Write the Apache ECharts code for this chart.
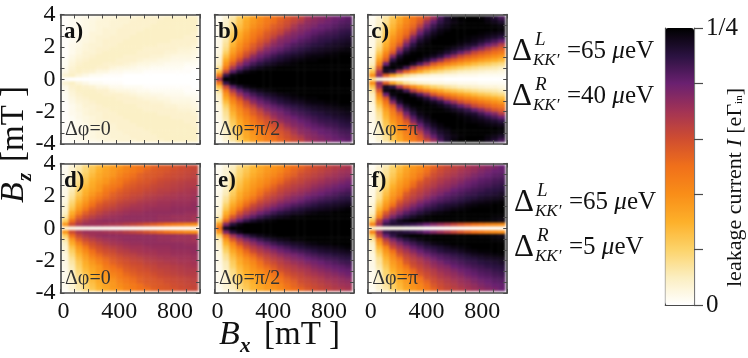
<!DOCTYPE html>
<html>
<head>
<meta charset="utf-8">
<style>
html, body { margin: 0; padding: 0; background: #fff; }
#heat, #view { position: absolute; left: 0; top: 0; width: 748px; height: 358px; }
#heat { filter: blur(1.2px); }
</style>
<script src="https://cdn.jsdelivr.net/npm/echarts@6/dist/echarts.min.js"></script>
</head>
<body>
<div id="heat"></div>
<div id="view"></div>
<script>
// Bx cell centres in mT, Bz rows in mT (top down to 0; the plots are symmetric in Bz,
// so only the upper half is tabulated). Values are % of the 1/4 full scale.
var bxCells = [25,75,125,175,225,275,325,375,425,475,525,575,625,675,725,775,825,875,925,975];
var bzCells = [4,3.75,3.5,3.25,3,2.75,2.5,2.25,2,1.75,1.5,1.25,1,0.75,0.5,0.25,0];
var colorTicks = [0, 0.05, 0.1, 0.15, 0.2, 0.25];

var panelA = [
[1,2,3,4,4,5,6,6,7,7,7,8,8,8,8,9,9,9,9,9],
[1,2,3,4,5,6,6,7,7,7,8,8,8,8,9,9,9,9,9,9],
[1,2,3,4,5,6,6,7,7,8,8,8,8,9,9,9,9,9,9,9],
[1,2,3,4,5,6,7,7,8,8,8,8,9,9,9,9,9,9,9,9],
[1,2,3,4,6,6,7,7,8,8,8,9,9,9,9,9,9,9,9,8],
[1,2,3,5,6,7,7,8,8,8,9,9,9,9,9,9,9,9,8,8],
[1,2,4,5,6,7,8,8,8,9,9,9,9,9,9,9,8,8,8,8],
[1,3,4,6,7,7,8,8,9,9,9,9,9,9,8,8,8,8,8,7],
[1,3,5,6,7,8,8,9,9,9,9,9,8,8,8,8,8,7,7,6],
[1,3,5,7,7,8,9,9,9,9,9,8,8,8,8,7,7,6,6,5],
[1,4,6,7,8,9,9,9,9,8,8,8,8,7,7,6,5,5,5,4],
[2,5,7,8,9,9,9,9,8,8,8,7,6,6,5,5,4,4,4,3],
[2,6,8,9,9,9,8,8,8,7,6,5,5,4,4,3,3,3,2,2],
[3,7,9,9,9,8,8,6,5,5,4,3,3,2,2,2,2,2,1,1],
[4,8,9,8,7,5,5,3,3,2,2,2,1,1,1,1,1,1,1,0],
[7,9,6,4,2,2,1,1,1,0,0,0,0,0,0,0,0,0,0,0],
[1,0,0,0,0,0,0,0,0,0,0,0,0,0,0,0,0,0,0,0]
];
var panelB = [
[2,7,13,22,29,35,40,45,49,53,57,61,64,70,73,75,77,79,80,82],
[3,8,15,24,32,37,42,47,51,56,60,64,68,73,75,77,79,81,83,84],
[3,9,16,26,33,39,44,49,55,58,62,68,73,75,77,80,81,83,85,86],
[3,9,18,28,35,42,47,52,57,61,66,71,75,77,80,81,83,85,87,88],
[3,10,21,31,38,45,50,56,60,64,71,75,77,80,82,84,86,87,89,90],
[3,11,23,33,40,47,53,58,64,71,75,77,80,82,85,87,88,89,91,92],
[4,13,26,36,43,50,57,62,70,75,77,80,83,85,87,89,90,92,93,94],
[4,15,29,39,47,55,61,68,74,77,81,84,86,88,90,91,93,94,95,96],
[5,17,33,42,51,58,66,74,78,81,84,87,89,91,93,94,95,96,97,98],
[5,21,36,47,57,64,74,78,82,85,88,90,92,94,95,96,97,98,99,99],
[7,26,41,52,62,73,79,83,87,90,92,94,95,97,98,98,99,99,100,100],
[8,32,47,60,73,79,84,88,91,93,95,97,98,99,99,100,100,100,100,100],
[10,38,56,71,80,86,90,93,95,97,98,99,100,100,100,100,100,100,100,100],
[15,47,68,81,88,93,96,98,99,100,100,100,100,100,100,100,100,100,100,100],
[26,62,83,92,97,99,100,100,100,100,100,100,100,100,100,100,100,100,100,100],
[47,88,98,100,100,100,100,100,100,100,100,100,100,100,100,100,100,100,100,100],
[70,100,100,100,100,100,100,100,100,100,100,100,100,100,100,100,100,100,100,100]
];
var panelC = [
[2,7,14,24,32,40,47,53,62,72,85,93,98,100,100,100,99,96,92,86],
[3,8,15,26,34,42,49,57,71,81,89,94,97,99,100,100,100,98,96,93],
[3,9,18,28,37,45,52,64,78,87,93,96,99,100,100,100,100,100,99,98],
[3,9,20,30,40,48,57,73,84,91,96,98,100,100,100,100,100,100,100,99],
[3,10,23,33,43,51,64,80,89,95,98,100,100,100,100,100,99,98,97,96],
[4,11,25,37,46,57,76,87,94,98,100,100,100,100,99,98,97,95,93,90],
[4,13,28,40,50,68,83,93,97,100,100,100,100,99,98,96,93,89,85,80],
[4,15,31,44,57,78,90,97,99,100,100,100,99,97,94,92,86,80,75,66],
[5,18,35,49,71,87,95,99,100,100,100,98,95,92,88,81,74,66,59,55],
[5,23,41,57,82,94,99,100,100,99,97,93,88,81,73,63,58,54,50,47],
[7,28,48,75,93,99,100,100,98,95,90,81,72,62,56,52,48,44,40,37],
[8,35,57,89,98,100,100,97,91,82,72,60,54,49,44,40,36,33,30,27],
[10,43,80,98,100,100,94,84,72,58,51,45,39,35,31,27,24,22,19,17],
[15,57,97,100,97,86,66,54,46,38,33,27,24,21,18,16,14,13,12,10],
[25,70,95,90,70,54,41,32,25,20,17,14,12,10,9,8,7,6,6,5],
[40,75,55,34,23,15,11,8,7,5,5,4,4,3,3,3,2,2,2,2],
[15,6,4,3,2,2,1,1,1,1,1,0,0,0,0,0,0,0,0,0]
];
var panelD = [
[2,7,12,18,23,28,32,36,38,43,46,49,50,54,56,57,58,60,61,62],
[3,7,13,19,25,30,34,37,41,44,47,50,54,56,57,58,60,61,62,63],
[3,8,15,21,27,32,35,38,43,47,50,54,56,57,58,60,61,62,63,64],
[3,9,15,23,29,33,37,41,46,49,52,55,57,58,60,61,62,63,64,65],
[3,9,17,24,31,35,38,44,47,52,55,57,58,60,62,63,64,65,66,66],
[3,10,19,27,32,37,43,47,50,55,57,59,60,62,63,64,65,66,67,67],
[4,11,21,29,34,38,46,50,54,57,59,60,62,63,65,65,66,67,68,69],
[4,13,23,31,37,43,49,54,57,59,61,62,64,65,66,67,68,69,69,70],
[5,15,26,34,41,47,52,56,59,61,63,64,66,67,68,69,69,70,70,71],
[5,18,29,37,46,52,57,59,62,64,65,67,68,69,70,70,71,71,71,72],
[7,21,33,41,50,57,60,62,65,66,68,69,70,70,71,71,72,72,72,73],
[7,25,37,47,56,60,63,65,67,69,70,70,71,72,72,72,73,73,73,73],
[9,31,44,55,60,64,67,69,70,71,72,72,73,73,73,73,73,73,72,72],
[13,37,54,61,65,68,70,71,72,73,73,73,73,73,72,72,71,71,71,70],
[21,50,62,67,70,72,73,73,73,73,73,73,73,73,72,72,72,71,71,70],
[37,60,68,71,71,71,70,69,68,66,64,62,59,56,53,50,47,45,42,40],
[6,4,3,3,2,2,2,1,1,1,1,1,1,1,1,1,1,1,1,1]
];
var panelE = [
[2,6,10,17,22,28,32,36,38,41,46,50,53,57,60,62,64,66,67,69],
[3,7,11,19,24,29,33,37,40,43,49,53,57,60,62,64,66,68,70,71],
[3,7,13,20,26,31,35,39,42,47,52,55,60,62,64,66,68,70,72,73],
[3,7,15,22,28,33,37,41,46,50,55,59,62,64,66,68,71,72,74,76],
[3,8,16,24,30,35,39,43,49,53,59,62,64,67,69,71,73,75,77,79],
[3,9,17,26,32,37,41,47,53,59,62,65,67,69,72,74,76,78,80,81],
[3,10,20,28,34,39,46,52,57,62,65,67,70,72,75,77,79,81,82,84],
[4,11,22,31,37,42,50,57,61,65,68,71,73,76,78,80,82,84,86,87],
[4,14,25,33,40,47,55,61,65,68,72,75,77,80,82,84,86,87,89,90],
[5,16,28,37,46,53,61,65,69,73,76,78,81,84,86,88,89,91,92,93],
[5,20,32,41,52,61,66,70,74,78,81,84,86,88,90,92,93,94,95,96],
[7,24,37,49,60,66,71,76,80,83,86,89,91,93,94,95,96,97,98,99],
[8,30,43,59,67,73,79,83,87,90,92,94,95,97,98,99,99,100,100,100],
[11,37,57,68,76,82,87,91,94,96,97,99,99,100,100,100,100,100,100,100],
[20,52,70,81,88,93,96,98,99,100,100,100,100,100,100,100,100,100,100,100],
[37,76,91,97,100,100,100,100,100,100,100,100,100,100,100,100,100,100,100,100],
[50,95,100,100,100,100,100,100,100,100,100,100,100,100,100,100,100,100,100,100]
];
var panelF = [
[2,7,12,20,26,32,37,41,47,53,59,62,64,66,69,71,73,75,77,80],
[3,8,14,21,28,34,39,43,50,57,61,64,66,69,71,73,76,78,80,81],
[3,8,15,23,30,36,41,47,53,60,63,66,68,71,73,76,78,80,82,83],
[3,9,17,25,32,38,43,50,59,62,66,68,71,73,76,78,81,82,84,85],
[3,9,19,27,35,40,49,57,61,65,68,71,73,76,79,81,83,84,86,87],
[3,10,20,30,37,43,52,60,64,67,71,73,76,79,81,83,85,86,88,89],
[4,12,23,33,40,49,59,63,67,71,74,76,80,82,84,86,87,89,90,91],
[4,14,26,36,43,56,62,66,70,74,77,81,83,85,87,88,90,91,92,94],
[5,15,29,39,49,60,65,69,74,78,82,84,86,88,90,91,93,94,95,96],
[5,19,33,43,57,64,69,75,79,83,85,87,89,91,93,95,96,97,98,99],
[7,23,37,50,63,69,75,80,84,87,90,92,93,95,97,98,99,99,100,100],
[7,28,43,61,69,75,81,85,89,91,93,95,97,98,99,100,100,100,100,100],
[9,35,57,68,76,83,87,91,94,97,98,99,100,100,100,100,100,100,100,100],
[14,43,66,77,85,90,94,97,99,100,100,100,100,100,100,100,100,100,99,99],
[23,63,80,89,95,98,100,100,100,100,100,100,100,100,100,100,99,99,98,97],
[43,70,88,92,92,90,88,85,80,76,72,68,63,58,54,50,47,44,42,40],
[8,5,4,3,3,2,2,2,1,1,1,1,1,1,1,1,1,1,1,1]
];

var panels = [panelA, panelB, panelC, panelD, panelE, panelF];
var panelNames = ['a)', 'b)', 'c)', 'd)', 'e)', 'f)'];
var phaseNames = ['Δφ=0', 'Δφ=π/2', 'Δφ=π', 'Δφ=0', 'Δφ=π/2', 'Δφ=π'];
var colorStops = ['#ffffff','#fbeec0','#fcd36a','#fdb02a','#f98e18','#f0701a','#cf4d30','#a23355','#6a2070','#2a1240','#000000'];

var serif = '"Liberation Serif", serif';
var frameColor = '#4a4a4a';
var frameLeft = [60.5, 214.5, 367.7];
var frameTop = [14.5, 163.5];

function text(x, y, str, font, extra) {
    var style = {text: str, font: font, fill: '#111', align: 'left', verticalAlign: 'middle'};
    var rot = 0;
    for (var k in extra) {
        if (k === 'rot') { rot = extra[k]; } else { style[k] = extra[k]; }
    }
    return {type: 'text', x: x, y: y, z: 20, silent: true, rotation: rot, style: style};
}

function deltaLabel(x, y, sup, val) {
    return [
        text(x, y, 'Δ', '31px ' + serif),
        text(x + 23, y - 12, sup, 'italic 19px ' + serif),
        text(x + 21, y + 9, 'KK′', 'italic 17px ' + serif),
        text(x + 55, y - 1, val, '25px ' + serif, {
            rich: {m: {font: 'italic 25px ' + serif, fill: '#111'}}
        })
    ];
}

// heat cells live in their own slightly blurred layer
var heatGrid = [], heatX = [], heatY = [], series = [];
panels.forEach(function (upper, i) {
    var fx = frameLeft[i % 3], fy = frameTop[i < 3 ? 0 : 1];
    heatGrid.push({left: fx + 1.5, top: fy + 1.5, width: 136, height: 126});
    heatX.push({type: 'category', gridIndex: i, data: bxCells, show: false});
    heatY.push({type: 'category', gridIndex: i, data: bzCells.concat(bzCells.slice(0, -1).reverse()), show: false});
    var rows = upper.concat(upper.slice(0, -1).reverse());
    var data = [];
    rows.forEach(function (r, y) {
        r.forEach(function (v, x) { data.push([x, y, v]); });
    });
    series.push({type: 'heatmap', xAxisIndex: i, yAxisIndex: i, data: data, silent: true, progressive: 0, animation: false});
});

// frames, ticks, colour bar and all text on top
var grid = [], xAxis = [], yAxis = [], graphic = [];
function tickStyle() {
    return {inside: true, length: 4, lineStyle: {color: frameColor, width: 1}};
}
function minorStyle() {
    return {show: true, splitNumber: 3, length: 4, lineStyle: {color: frameColor, width: 1}};
}
var axisLine = {onZero: false, lineStyle: {color: frameColor, width: 1.6}};
var labelStyle = {color: '#111', fontFamily: serif, fontSize: 24};

panels.forEach(function (upper, j) {
    var c = j % 3, r2 = j < 3 ? 0 : 1;
    var fx = frameLeft[c], fy = frameTop[r2];
    grid.push({left: fx, top: fy, width: 139.5, height: 129.5});
    xAxis.push({type: 'value', gridIndex: j, position: 'bottom', min: 0, max: 1000, interval: 100,
        axisLine: axisLine, axisTick: tickStyle(), splitLine: {show: false},
        axisLabel: r2 === 1 ? Object.assign({show: true, margin: 7, padding: [0, 0, 0, 6], customValues: [0, 400, 800]}, labelStyle) : {show: false}});
    yAxis.push({type: 'value', gridIndex: j, position: 'left', min: -4, max: 4, interval: 2,
        axisLine: axisLine, axisTick: tickStyle(), minorTick: minorStyle(), splitLine: {show: false}, minorSplitLine: {show: false},
        axisLabel: c === 0 ? Object.assign({show: true, margin: 5}, labelStyle) : {show: false}});
    xAxis.push({type: 'value', gridIndex: j, position: 'top', min: 0, max: 1000, interval: 100,
        axisLine: axisLine, axisTick: tickStyle(), axisLabel: {show: false}, splitLine: {show: false}});
    yAxis.push({type: 'value', gridIndex: j, position: 'right', min: -4, max: 4, interval: 2,
        axisLine: axisLine, axisTick: tickStyle(), minorTick: minorStyle(),
        axisLabel: {show: false}, splitLine: {show: false}, minorSplitLine: {show: false}});
    graphic.push(text(fx + 3.5, fy + 18, panelNames[j], 'bold 23px ' + serif));
    graphic.push(text(fx + 4.5, fy + 115, phaseNames[j], '20px ' + serif, {fill: '#333'}));
});

// colour bar ticks
grid.push({left: 665.3, top: 28, width: 28.7, height: 277});
xAxis.push({type: 'value', gridIndex: 6, min: 0, max: 1, position: 'bottom',
    axisLine: {onZero: false, lineStyle: {color: frameColor, width: 1.2}}, axisTick: {show: false}, axisLabel: {show: false}, splitLine: {show: false}});
yAxis.push({type: 'value', gridIndex: 6, position: 'right', min: colorTicks[0], max: colorTicks[5], interval: 0.05,
    axisLine: {onZero: false, lineStyle: {color: '#777', width: 1.2}},
    axisTick: {length: 9, lineStyle: {color: frameColor, width: 1.2}},
    splitLine: {show: false},
    axisLabel: {color: '#111', fontFamily: serif, fontSize: 25, margin: 12, align: 'left',
        formatter: function (v) { return v === 0 ? '0' : (v > 0.249 ? '1/4' : ''); }}});
yAxis.push({type: 'value', gridIndex: 6, position: 'left', min: 0, max: 1,
    axisLine: {onZero: false, lineStyle: {color: frameColor, width: 1.2}}, axisTick: {show: false}, axisLabel: {show: false}, splitLine: {show: false}});

// axis titles
graphic.push(text(219, 335, 'B', 'italic 34px ' + serif));
graphic.push(text(240, 347, 'x', 'italic bold 21px ' + serif));
graphic.push(text(264, 335, '[mT ]', '33px ' + serif));
graphic.push(text(14, 203, 'B', 'italic 34px ' + serif, {rot: Math.PI / 2}));
graphic.push(text(26, 181, 'z', 'italic bold 21px ' + serif, {rot: Math.PI / 2}));
graphic.push(text(14, 162, '[mT ]', '33px ' + serif, {rot: Math.PI / 2}));
graphic.push(text(735, 287, 'leakage current {i|I} [eΓ{s|in}]', '22px ' + serif, {
    rot: Math.PI / 2,
    rich: {i: {font: 'italic 22px ' + serif, fill: '#111'}, s: {font: '11px ' + serif, fill: '#111', padding: [8, 0, 0, 0]}}
}));

graphic = graphic
    .concat(deltaLabel(512, 52, 'L', '=65 {m|μ}eV'))
    .concat(deltaLabel(512, 97, 'R', '=40 {m|μ}eV'))
    .concat(deltaLabel(514, 203, 'L', '=65 {m|μ}eV'))
    .concat(deltaLabel(514, 248, 'R', '=5 {m|μ}eV'));

var heatChart = echarts.init(document.getElementById('heat'));
heatChart.setOption({
    animation: false,
    grid: heatGrid,
    xAxis: heatX,
    yAxis: heatY,
    visualMap: {
        type: 'continuous',
        show: false,
        min: 0,
        max: 100,
        dimension: 2,
        inRange: {color: colorStops}
    },
    series: series
});

var myChart = echarts.init(document.getElementById('view'));
myChart.setOption({
    backgroundColor: 'transparent',
    animation: false,
    grid: grid,
    xAxis: xAxis,
    yAxis: yAxis,
    visualMap: {
        type: 'continuous',
        min: 0,
        max: 100,
        seriesIndex: [],
        left: 665.3,
        top: 28,
        padding: 0,
        itemWidth: 28.7,
        itemHeight: 277,
        calculable: false,
        hoverLink: false,
        text: null,
        inRange: {color: colorStops}
    },
    graphic: {elements: graphic}
});
</script>
</body>
</html>
